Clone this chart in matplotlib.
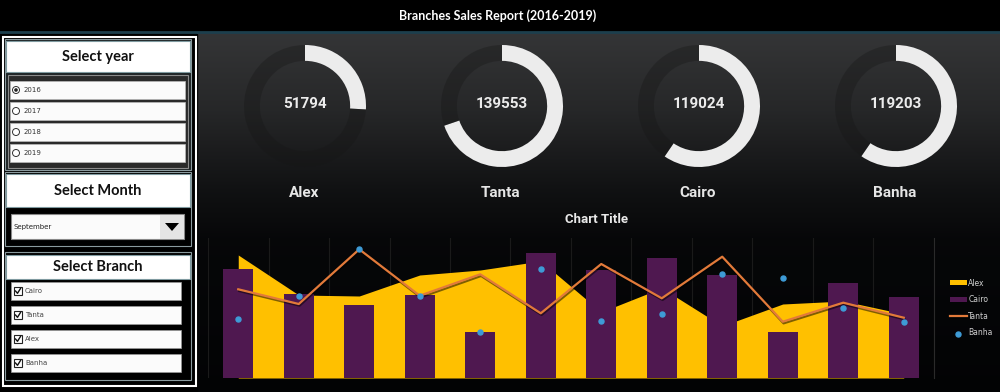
import matplotlib
matplotlib.use('Agg')
import matplotlib.pyplot as plt
import matplotlib.patches as mpatches
import matplotlib.patheffects as pe
import numpy as np

# ---- data ----
months = ['Jan', 'Feb', 'Mar', 'Apr', 'May', 'Jun', 'Jul', 'Aug', 'Sep', 'Oct', 'Nov', 'Dec']
alex = [12300, 8300, 8200, 10300, 10800, 11700, 6600, 9000, 5200, 7400, 7700, 6400]
cairo = [10900, 8370, 7270, 8300, 4630, 12470, 10800, 12030, 10330, 4630, 9470, 8070]
tanta = [8870, 7400, 12870, 8230, 10370, 6470, 11400, 7970, 12130, 5630, 7530, 6030]
banha = [5930, 8230, 12870, 8170, 4630, 10900, 5730, 6400, 10400, 10000, 7000, 5570]

branches = ['Alex', 'Tanta', 'Cairo', 'Banha']
totals = [51794, 139553, 119024, 119203]
ring_max = 200000

years = ['2016', '2017', '2018', '2019']
selected_year = '2016'
selected_month = 'September'
branch_filter = ['Cairo', 'Tanta', 'Alex', 'Banha']

W, H = 1000, 392
fig = plt.figure(figsize=(W / 100, H / 100), dpi=100)
fig.patch.set_facecolor('black')

# background axes in pixel coordinates
bg = fig.add_axes([0, 0, 1, 1])
bg.set_xlim(0, W)
bg.set_ylim(H, 0)
bg.axis('off')

# gradient behind the donuts and the chart
ys = np.arange(H)
c = np.interp(ys, [33, 110, 190, 240, 392], [0.205, 0.15, 0.065, 0.025, 0.01])
img = np.stack([c, c + 0.003, c + 0.008], axis=1)[:, None, :].clip(0, 1)
bg.imshow(img, extent=(197, W, H, 0), aspect='auto', zorder=0)
bg.set_xlim(0, W)
bg.set_ylim(H, 0)

# title bar
bg.add_patch(mpatches.Rectangle((0, 0), W, 31, color='black', zorder=1))
bg.plot([0, W], [32, 32], color='#1d3f4d', lw=2, zorder=2)
bg.text(498, 16, 'Branches Sales Report (2016-2019)', color='white', fontsize=9,
        fontweight='bold', family='Lato', ha='center', va='center', zorder=3)

# ---- left slicer panel ----
bg.add_patch(mpatches.Rectangle((0, 34), 197, H - 34, color='black', zorder=1))
bg.add_patch(mpatches.Rectangle((3, 37), 193, 349, fill=False, ec='white', lw=1.5, zorder=5))

def header(y0, y1, label):
    bg.add_patch(mpatches.Rectangle((6, y0), 184, y1 - y0, fc='white', ec='#7f9aa0', lw=0.8, zorder=3))
    bg.text(98, (y0 + y1) / 2, label, fontsize=10.5, fontweight='bold', family='Lato',
            color='#111111', ha='center', va='center', zorder=4)

# year slicer
bg.add_patch(mpatches.Rectangle((5, 39), 186, 131, fc='#1c2224', ec='#8a9a9e', lw=0.8, zorder=2))
header(41, 72, 'Select year')
bg.add_patch(mpatches.Rectangle((8, 75), 180, 93, fc='#2a2a2a', ec='#8a8a8a', lw=0.8, zorder=3))
for i, yr in enumerate(years):
    y0 = 81 + i * 21
    bg.add_patch(mpatches.Rectangle((10, y0), 175, 18, fc='#fbfbfb', ec='#bbbbbb', lw=0.5, zorder=4))
    yc = y0 + 9
    bg.add_patch(mpatches.Circle((16, yc), 3.5, fc='white', ec='#333333', lw=0.7, zorder=5))
    if yr == selected_year:
        bg.add_patch(mpatches.Circle((16, yc), 1.8, fc='#222222', zorder=6))
    bg.text(24, yc, yr, fontsize=5, color='#333333', va='center', zorder=6)

# month slicer
bg.add_patch(mpatches.Rectangle((5, 172), 186, 74, fc='black', ec='#8a9a9e', lw=0.8, zorder=2))
header(174, 207, 'Select Month')
bg.add_patch(mpatches.Rectangle((11, 214), 173, 25, fc='#fbfbfb', ec='#888888', lw=0.8, zorder=3))
bg.add_patch(mpatches.Rectangle((160, 215), 24, 24, fc='#e4e4e4', ec='none', zorder=4))
bg.add_patch(mpatches.Polygon([(165, 223), (179, 223), (172, 231)], closed=True, fc='black', zorder=5))
bg.text(14, 227, selected_month, fontsize=5, color='#222222', va='center', zorder=5)

# branch slicer
bg.add_patch(mpatches.Rectangle((5, 252), 186, 128, fc='black', ec='#8a9a9e', lw=0.8, zorder=2))
header(255, 279, 'Select Branch')
for i, br in enumerate(branch_filter):
    y0 = 282 + i * 24
    bg.add_patch(mpatches.Rectangle((11, y0), 170, 18, fc='#fbfbfb', ec='#999999', lw=0.5, zorder=4))
    yc = y0 + 9
    bg.add_patch(mpatches.Rectangle((14, yc - 4), 8, 8, fc='white', ec='#222222', lw=0.8, zorder=5))
    bg.plot([15.5, 17.5, 20.5], [yc, yc + 2.3, yc - 2.5], color='#111111', lw=1.0, zorder=6)
    bg.text(25, yc, br, fontsize=5, color='#444444', va='center', zorder=6)

# ---- donut KPIs ----
cxs = [305, 502, 699, 896]
cy, R = 106, 61
for cx, name, val in zip(cxs, branches, totals):
    ax_d = fig.add_axes([(cx - R) / W, (H - (cy + R)) / H, 2 * R / W, 2 * R / H])
    ax_d.patch.set_alpha(0)
    wedges, _ = ax_d.pie([val, ring_max - val], radius=1, startangle=90, counterclock=False,
                         colors=['#ececec', '#161616'],
                         wedgeprops=dict(width=0.26, edgecolor='none'))
    wedges[1].set_alpha(0.35)
    ax_d.set_xlim(-1, 1)
    ax_d.set_ylim(-1, 1)
    ax_d.axis('off')
    ax_d.text(0, 0.03, str(val), color='#ececec', fontsize=11, fontweight='bold',
              family='Roboto', ha='center', va='center')
    bg.text(cx - 1, 193, name, color='#e6e6e6', fontsize=11, fontweight='bold',
            family='Roboto', ha='center', va='center', zorder=3)

bg.text(597, 219, 'Chart Title', color='#e8e8e8', fontsize=9.5, fontweight='bold',
        family='Roboto', ha='center', va='center', zorder=3)

# ---- combo chart ----
ax = fig.add_axes([208 / W, (H - 378) / H, 726 / W, 140 / H])
ax.patch.set_alpha(0)
x = np.arange(len(months))
h_alex = ax.fill_between(x, alex, color='#FFC000', lw=0, zorder=1, label='Alex')
h_cairo = ax.bar(x, cairo, width=0.5, color='#4F1850', zorder=2, label='Cairo')
h_tanta, = ax.plot(x, tanta, color='#E27A3A', lw=1.6, zorder=3, label='Tanta',
                   path_effects=[pe.SimpleLineShadow(offset=(0.6, -1.2), shadow_color='black', alpha=0.5),
                                 pe.Normal()])
h_banha = ax.scatter(x, banha, s=13, color='#3E9BD6', zorder=4, label='Banha')
ax.set_xlim(-0.5, len(months) - 0.5)
ax.set_ylim(0, 14000)
ax.set_xticks(np.arange(-0.5, len(months), 1))
ax.tick_params(length=0, labelbottom=False, labelleft=False)
ax.grid(axis='x', color='#1a1a1a', lw=0.8)
ax.set_axisbelow(True)
for s in ['top', 'left', 'bottom']:
    ax.spines[s].set_visible(False)
ax.spines['right'].set_color('#2a2a2a')

fig.legend([h_alex, h_cairo, h_tanta, h_banha], ['Alex', 'Cairo', 'Tanta', 'Banha'],
           loc='center left', bbox_to_anchor=(0.943, 1 - 308 / H), frameon=False,
           fontsize=5.5, labelcolor='#d0d0d0', handlelength=2.2, handleheight=0.6,
           labelspacing=1.0, handletextpad=0.2, scatterpoints=1)

fig.savefig('out.png', dpi=100, facecolor=fig.get_facecolor())
